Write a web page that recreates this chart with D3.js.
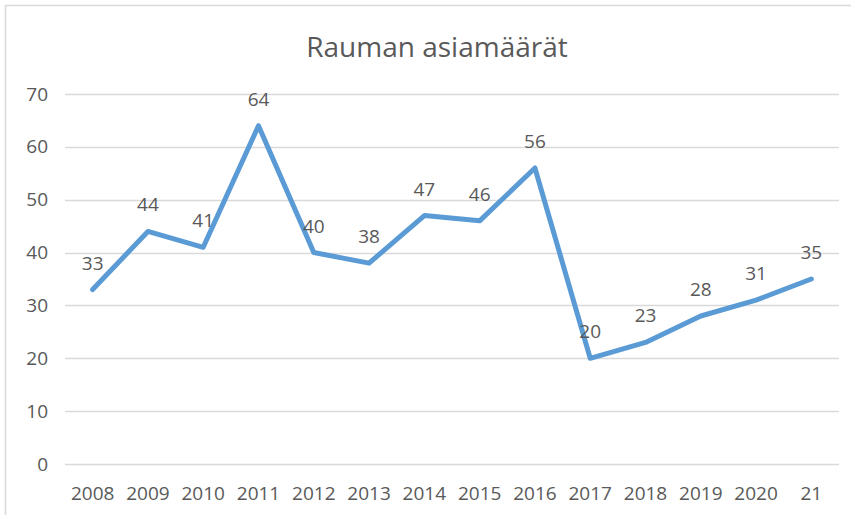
<!DOCTYPE html>
<html>
<head>
<meta charset="utf-8">
<script src="https://cdn.jsdelivr.net/npm/d3@7"></script>
<style>
  html, body { margin: 0; padding: 0; background: #fff; }
  svg { display: block; }
  text { font-family: "Open Sans", "Noto Sans", sans-serif; fill: #595959; }
</style>
</head>
<body>
<svg id="chart" width="851" height="515"></svg>
<script>
// Annual case counts in Rauma
const years = ["2008", "2009", "2010", "2011", "2012", "2013", "2014", "2015",
               "2016", "2017", "2018", "2019", "2020", "21"];
const counts = [33, 44, 41, 64, 40, 38, 47, 46, 56, 20, 23, 28, 31, 35];
const yTicks = [0, 10, 20, 30, 40, 50, 60, 70];
const title = "Rauman asiamäärät";

const svg = d3.select("#chart");

// chart frame
svg.append("rect")
  .attr("x", 5.5).attr("y", 5.5)
  .attr("width", 860).attr("height", 520)
  .attr("fill", "none")
  .attr("stroke", "#d9d9d9")
  .attr("stroke-width", 1.5);

const plot = { left: 65, right: 839, top: 94, bottom: 464 };

const x = d3.scaleBand().domain(years).range([plot.left, plot.right]).padding(0);
const y = d3.scaleLinear().domain([0, 70]).range([plot.bottom, plot.top]);

// horizontal gridlines
svg.append("g")
  .selectAll("line")
  .data(yTicks)
  .join("line")
  .attr("x1", plot.left).attr("x2", plot.right)
  .attr("y1", d => Math.round(y(d)) + 0.5)
  .attr("y2", d => Math.round(y(d)) + 0.5)
  .attr("stroke", "#d9d9d9")
  .attr("stroke-width", 1.5);

// y axis labels
const yAxis = d3.axisLeft(y).tickValues(yTicks).tickSize(0).tickPadding(0);
svg.append("g")
  .attr("transform", `translate(${plot.left - 17},0)`)
  .call(yAxis)
  .call(g => g.select(".domain").remove())
  .selectAll("text")
  .attr("font-size", 19)
  .attr("font-family", "'Open Sans', 'Noto Sans', sans-serif")
  .attr("fill", "#595959");

// x axis labels
const xAxis = d3.axisBottom(x).tickSize(0).tickPadding(0);
svg.append("g")
  .attr("transform", `translate(0,${plot.bottom})`)
  .call(xAxis)
  .call(g => g.select(".domain").remove())
  .selectAll("text")
  .attr("dy", null)
  .attr("y", 36)
  .attr("font-size", 19)
  .attr("font-family", "'Open Sans', 'Noto Sans', sans-serif")
  .attr("fill", "#595959");

const cx = d => x(d) + x.bandwidth() / 2;
const pts = years.map((yr, i) => ({ yr, v: counts[i] }));

// series line
const line = d3.line().x(d => cx(d.yr)).y(d => y(d.v));
svg.append("path")
  .datum(pts)
  .attr("d", line)
  .attr("fill", "none")
  .attr("stroke", "#5b9bd5")
  .attr("stroke-width", 5)
  .attr("stroke-linejoin", "round")
  .attr("stroke-linecap", "round");

// value labels above the points
svg.append("g")
  .selectAll("text")
  .data(pts)
  .join("text")
  .attr("x", d => cx(d.yr))
  .attr("y", d => y(d.v) - 20)
  .attr("text-anchor", "middle")
  .attr("font-size", 19)
  .text(d => d.v);

// title
svg.append("text")
  .attr("x", 437)
  .attr("y", 57)
  .attr("text-anchor", "middle")
  .attr("font-size", 28)
  .text(title);
</script>
</body>
</html>
